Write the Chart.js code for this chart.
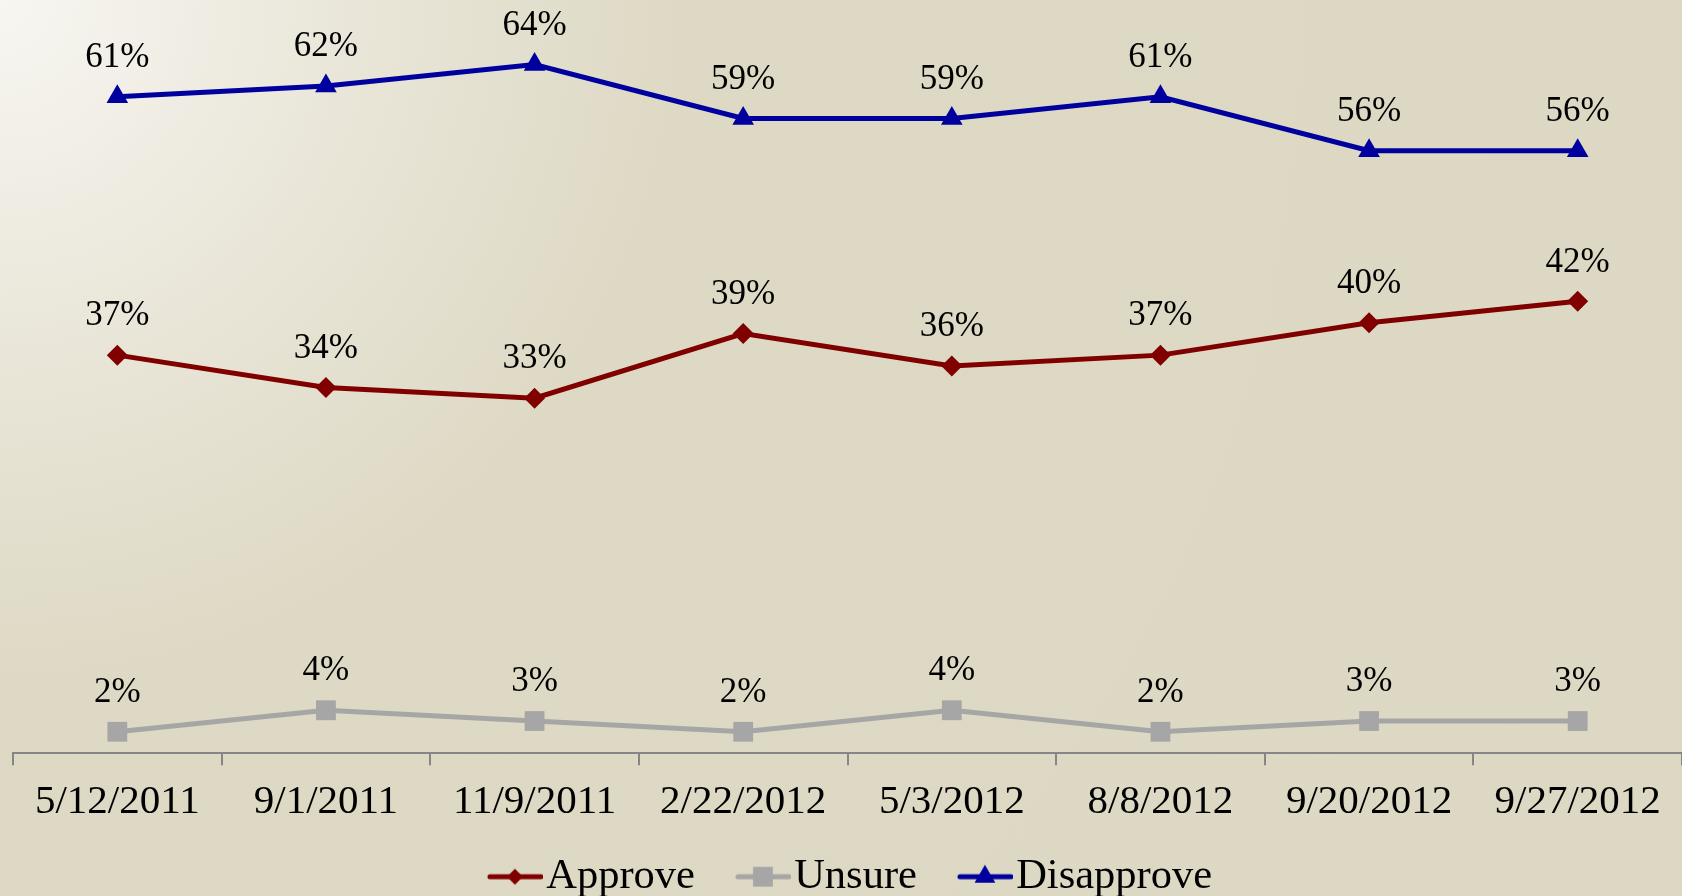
<!DOCTYPE html>
<html>
<head>
<meta charset="utf-8">
<script src="https://cdn.jsdelivr.net/npm/chart.js@4/dist/chart.umd.min.js"></script>
<style>
  html, body { margin: 0; padding: 0; overflow: hidden; }
  #wrap {
    width: 1682px;
    height: 896px;
    position: relative;
    background: radial-gradient(circle at 0 0, #f7f6f1 0%, #ebe8dc 16%, #ddd9c4 36%, #ddd8c3 100%);
  }
  canvas { display: block; }
</style>
</head>
<body>
<div id="wrap"><canvas id="chart"></canvas></div>
<script>
const dates = ['5/12/2011', '9/1/2011', '11/9/2011', '2/22/2012', '5/3/2012', '8/8/2012', '9/20/2012', '9/27/2012'];
const approve = [37, 34, 33, 39, 36, 37, 40, 42];
const unsure = [2, 4, 3, 2, 4, 2, 3, 3];
const disapprove = [61, 62, 64, 59, 59, 61, 56, 56];

const serif = "'Liberation Serif', 'Times New Roman', serif";

// little picture for the legend: line with the marker on top
// (the marker sits in the right part so the legend spacing comes out like the original)
function legendMark(color, shape, r) {
    const c = document.createElement('canvas');
    c.width = 98;
    c.height = 30;
    const g = c.getContext('2d');
    const cy = 15, cx = 70;
    g.strokeStyle = color;
    g.fillStyle = color;
    g.lineWidth = 5;
    g.lineCap = 'round';
    g.beginPath();
    g.moveTo(45, cy);
    g.lineTo(96, cy);
    g.stroke();
    g.beginPath();
    if (shape === 'rectRot') {
        g.moveTo(cx, cy - r); g.lineTo(cx + r, cy); g.lineTo(cx, cy + r); g.lineTo(cx - r, cy);
    } else if (shape === 'rect') {
        const s = r * Math.SQRT1_2;
        g.rect(cx - s, cy - s, 2 * s, 2 * s);
    } else {
        const h = r * Math.sqrt(3) / 2;
        g.moveTo(cx, cy - r); g.lineTo(cx + h, cy + r / 2); g.lineTo(cx - h, cy + r / 2);
    }
    g.closePath();
    g.fill();
    return c;
}

const series = [
    { label: 'Approve', data: approve, color: '#800000', shape: 'rectRot', r: 10.5, legR: 8 },
    { label: 'Unsure', data: unsure, color: '#a6a6a6', shape: 'rect', r: 14, legR: 14 },
    { label: 'Disapprove', data: disapprove, color: '#00009f', shape: 'triangle', r: 12.5, legR: 12 }
];

const valueLabels = {
    id: 'valueLabels',
    afterLayout(chart) {
        // nudge the legend a bit left, the original is not quite centred
        chart.legend.left -= 10;
        chart.legend.right -= 10;
    },
    afterDatasetsDraw(chart) {
        const ctx = chart.ctx;
        ctx.save();
        ctx.font = '35px ' + serif;
        ctx.fillStyle = '#000';
        ctx.textAlign = 'center';
        ctx.textBaseline = 'middle';
        chart.data.datasets.forEach((ds, i) => {
            chart.getDatasetMeta(i).data.forEach((pt, j) => {
                ctx.fillText(ds.data[j] + '%', pt.x, pt.y - 39);
            });
        });
        ctx.restore();
    }
};

new Chart(document.getElementById('chart'), {
    type: 'line',
    data: {
        labels: dates,
        datasets: series.map(s => ({
            label: s.label,
            data: s.data,
            borderColor: s.color,
            backgroundColor: s.color,
            borderWidth: 5,
            pointStyle: s.shape,
            pointRadius: s.r,
            pointHoverRadius: s.r,
            pointBorderWidth: 0,
            tension: 0,
            clip: false,
            legendMark: legendMark(s.color, s.shape, s.legR)
        }))
    },
    options: {
        responsive: true,
        maintainAspectRatio: false,
        animation: false,
        layout: { autoPadding: false, padding: { left: 13, right: 0, top: 0, bottom: -12 } },
        plugins: {
            tooltip: { enabled: false },
            legend: {
                position: 'bottom',
                labels: {
                    usePointStyle: true,
                    pointStyleWidth: 62,
                    padding: 16,
                    color: '#000',
                    font: { family: serif, size: 42.5 },
                    generateLabels(chart) {
                        return chart.data.datasets.map((ds, i) => ({
                            text: ds.label,
                            pointStyle: ds.legendMark,
                            fillStyle: ds.borderColor,
                            strokeStyle: ds.borderColor,
                            lineWidth: 0,
                            hidden: false,
                            datasetIndex: i,
                            fontColor: '#000'
                        }));
                    }
                }
            }
        },
        scales: {
            x: {
                offset: true,
                grid: {
                    offset: true,
                    drawOnChartArea: false,
                    drawTicks: true,
                    tickLength: 12,
                    color: '#868686',
                    lineWidth: 2
                },
                border: { display: true, color: '#868686', width: 2 },
                ticks: {
                    color: '#000',
                    font: { family: serif, size: 41 },
                    padding: 12.5,
                    autoSkip: false,
                    maxRotation: 0
                }
            },
            y: {
                display: false,
                min: 0,
                max: 70
            }
        }
    },
    plugins: [valueLabels]
});
</script>
</body>
</html>
